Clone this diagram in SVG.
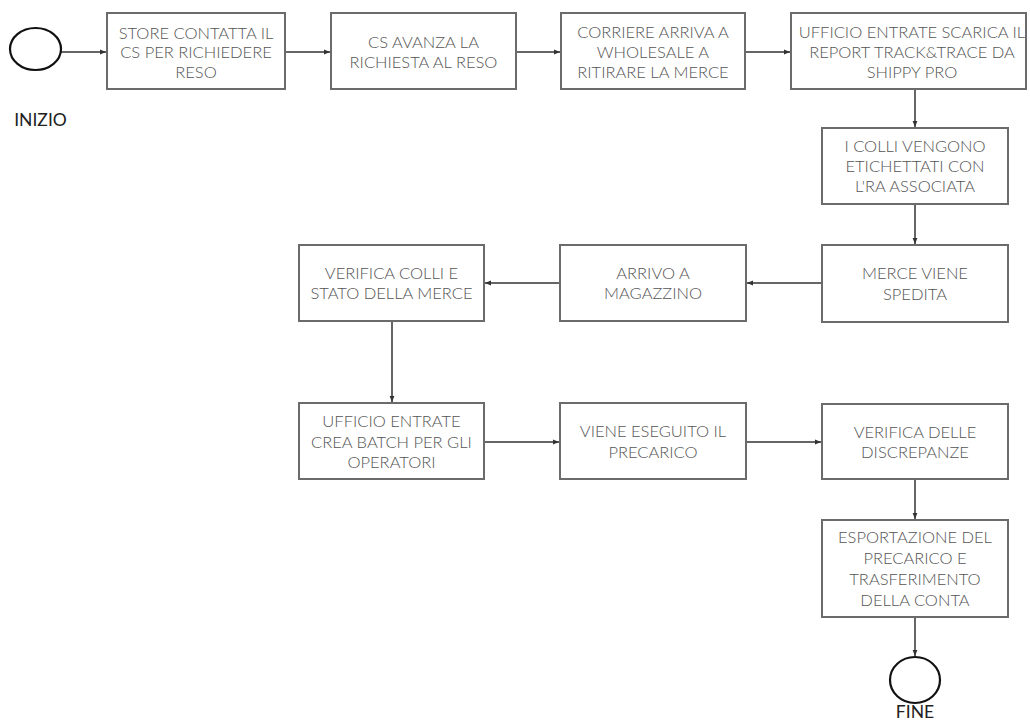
<svg xmlns="http://www.w3.org/2000/svg" width="1030" height="722" viewBox="0 0 1030 722">
<defs>
<marker id="arr" viewBox="0 0 10 10" refX="10" refY="5" markerWidth="4" markerHeight="4" orient="auto" markerUnits="strokeWidth">
<path d="M0,1 L10,5 L0,9 z" fill="#333"/>
</marker>
<style>
.box{fill:#fff;stroke:#6b6b6b;stroke-width:2}
.t{font-family:Lato,"Open Sans","Liberation Sans",sans-serif;font-weight:300;font-size:16.5px;fill:#555;text-anchor:middle}
.lbl{font-family:Lato,"Open Sans","Liberation Sans",sans-serif;font-size:17.5px;fill:#222;text-anchor:middle}
.c{fill:none;stroke:#333;stroke-width:1.5;marker-end:url(#arr)}
.circ{fill:#fff;stroke:#111;stroke-width:2.2}
</style>
</defs>
<rect width="1030" height="722" fill="#fff"/>
<g id="connectors">
<line class="c" x1="61" y1="52" x2="106" y2="52"/>
<line class="c" x1="285" y1="52" x2="330" y2="52"/>
<line class="c" x1="516" y1="52" x2="560" y2="52"/>
<line class="c" x1="745" y1="52" x2="790" y2="52"/>
<line class="c" x1="915" y1="89" x2="915" y2="127"/>
<line class="c" x1="915" y1="204" x2="915" y2="244"/>
<line class="c" x1="822" y1="283" x2="747" y2="283"/>
<line class="c" x1="560" y1="283" x2="485" y2="283"/>
<line class="c" x1="392" y1="321" x2="392" y2="402"/>
<line class="c" x1="484" y1="442" x2="559" y2="442"/>
<line class="c" x1="746" y1="442" x2="821" y2="442"/>
<line class="c" x1="915" y1="479" x2="915" y2="519"/>
<line class="c" x1="915" y1="617" x2="915" y2="656"/>
</g>
<g id="start">
<ellipse class="circ" cx="35.5" cy="49" rx="25.5" ry="21"/>
<text class="lbl" x="40.5" y="126">INIZIO</text>
</g>
<g id="n1">
<rect class="box" x="107" y="13" width="178" height="76"/>
<text class="t" x="196" y="38.5">STORE CONTATTA IL</text>
<text class="t" x="196" y="58">CS PER RICHIEDERE</text>
<text class="t" x="196" y="77.5">RESO</text>
</g>
<g id="n2">
<rect class="box" x="331" y="13" width="185" height="76"/>
<text class="t" x="423.5" y="47.5">CS AVANZA LA</text>
<text class="t" x="423.5" y="68">RICHIESTA AL RESO</text>
</g>
<g id="n3">
<rect class="box" x="561" y="13" width="184" height="76"/>
<text class="t" x="653" y="38">CORRIERE ARRIVA A</text>
<text class="t" x="653" y="58">WHOLESALE A</text>
<text class="t" x="653" y="78">RITIRARE LA MERCE</text>
</g>
<g id="n4">
<rect class="box" x="791" y="13" width="235" height="76"/>
<text class="t" x="912" y="38">UFFICIO ENTRATE SCARICA IL</text>
<text class="t" x="912" y="58">REPORT TRACK&amp;TRACE DA</text>
<text class="t" x="912" y="78">SHIPPY PRO</text>
</g>
<g id="n5">
<rect class="box" x="822" y="128" width="186" height="76"/>
<text class="t" x="915" y="152">I COLLI VENGONO</text>
<text class="t" x="915" y="172">ETICHETTATI CON</text>
<text class="t" x="915" y="192">L'RA ASSOCIATA</text>
</g>
<g id="n6">
<rect class="box" x="822" y="245" width="186" height="77"/>
<text class="t" x="915" y="279">MERCE VIENE</text>
<text class="t" x="915" y="299.5">SPEDITA</text>
</g>
<g id="n7">
<rect class="box" x="560" y="245" width="186" height="76"/>
<text class="t" x="653" y="278.5">ARRIVO A</text>
<text class="t" x="653" y="299">MAGAZZINO</text>
</g>
<g id="n8">
<rect class="box" x="299" y="245" width="185" height="76"/>
<text class="t" x="391.5" y="278.5">VERIFICA COLLI E</text>
<text class="t" x="391.5" y="299">STATO DELLA MERCE</text>
</g>
<g id="n9">
<rect class="box" x="299" y="403" width="185" height="76"/>
<text class="t" x="391.5" y="427">UFFICIO ENTRATE</text>
<text class="t" x="391.5" y="447.5">CREA BATCH PER GLI</text>
<text class="t" x="391.5" y="468">OPERATORI</text>
</g>
<g id="n10">
<rect class="box" x="560" y="403" width="186" height="76"/>
<text class="t" x="653" y="437">VIENE ESEGUITO IL</text>
<text class="t" x="653" y="457.5">PRECARICO</text>
</g>
<g id="n11">
<rect class="box" x="822" y="404" width="186" height="75"/>
<text class="t" x="915" y="437.5">VERIFICA DELLE</text>
<text class="t" x="915" y="458">DISCREPANZE</text>
</g>
<g id="n12">
<rect class="box" x="822" y="520" width="186" height="97"/>
<text class="t" x="915" y="543">ESPORTAZIONE DEL</text>
<text class="t" x="915" y="564">PRECARICO E</text>
<text class="t" x="915" y="585">TRASFERIMENTO</text>
<text class="t" x="915" y="606">DELLA CONTA</text>
</g>
<g id="end">
<ellipse class="circ" cx="915" cy="680" rx="25" ry="23"/>
<text class="lbl" x="915" y="718">FINE</text>
</g>
</svg>
